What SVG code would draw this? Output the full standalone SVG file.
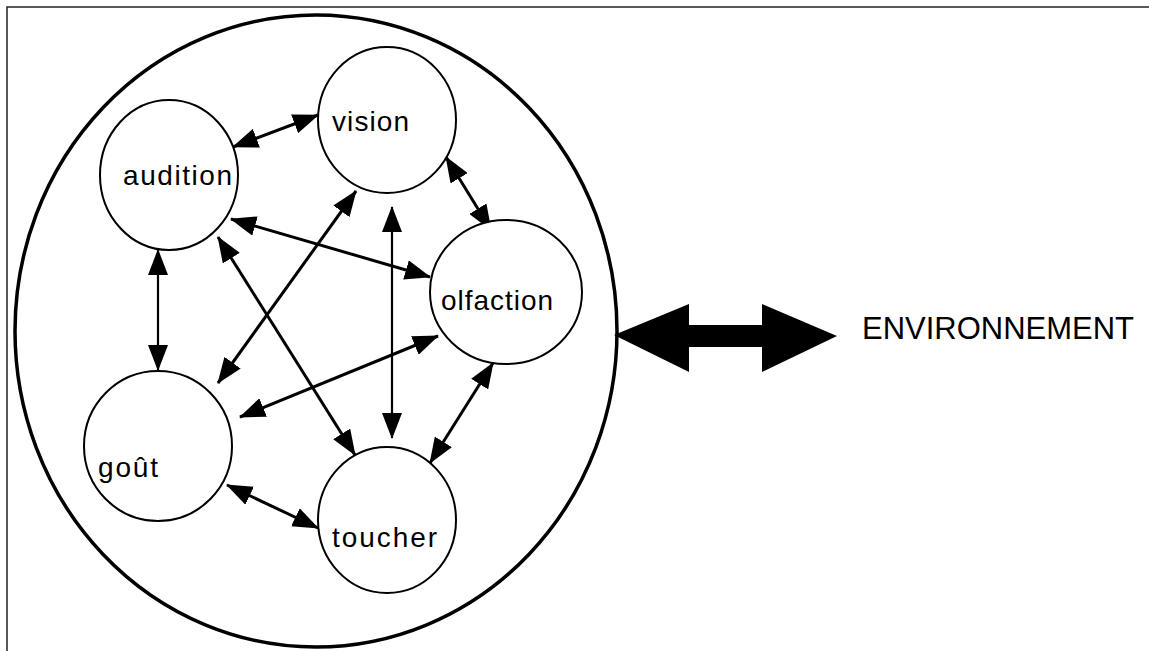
<svg xmlns="http://www.w3.org/2000/svg" width="1149" height="651" viewBox="0 0 1149 651">
  <style>
    .frame { stroke: #222; stroke-width: 1.5; fill: none; }
    .outer { fill: none; stroke: #000; stroke-width: 3.5; }
    .sense { fill: #fff; stroke: #000; stroke-width: 2; }
    .label { font-family: "Liberation Sans", Arial, sans-serif; font-size: 28px; fill: #000; }
    .env { font-family: "Liberation Sans", Arial, sans-serif; font-size: 31px; fill: #000; }
    .link { stroke: #000; stroke-width: 3; fill: none; marker-start: url(#head); marker-end: url(#head); }
    .link.thin { stroke-width: 2.2; }
  </style>
  <defs>
    <marker id="head" markerUnits="userSpaceOnUse" viewBox="0 0 26 20" markerWidth="26" markerHeight="20" refX="25" refY="10" orient="auto-start-reverse">
      <path d="M0,0 L26,10 L0,20 Z" fill="#000"/>
    </marker>
  </defs>

  <rect width="1149" height="651" fill="#fff"/>

  <!-- page frame (top and left edges) -->
  <path class="frame" d="M7,651 L7,7 L1149,7"/>

  <!-- enclosing circle of the senses -->
  <ellipse class="outer" cx="316" cy="331" rx="301" ry="316"/>

  <!-- two-way exchange with the environment -->
  <g id="exchange">
    <polygon points="614,335 689,304 689,325 762,325 762,304 837,336 762,372 762,347 689,347 689,372" fill="#000"/>
  </g>
  <g id="environnement">
    <text class="env" x="862" y="339" textLength="272" lengthAdjust="spacingAndGlyphs">ENVIRONNEMENT</text>
  </g>

  <!-- connectors between the senses -->
  <g id="connectors">
    <line class="link" x1="233" y1="147" x2="318" y2="115"/>
    <line class="link" x1="446" y1="157" x2="491" y2="230"/>
    <line class="link thin" x1="158" y1="250" x2="158" y2="370"/>
    <line class="link" x1="231" y1="219" x2="430" y2="277"/>
    <line class="link" x1="218" y1="383" x2="356" y2="191"/>
    <line class="link" x1="218" y1="237" x2="355" y2="455"/>
    <line class="link" x1="240" y1="417" x2="438" y2="336"/>
    <line class="link thin" x1="392" y1="207" x2="392" y2="438"/>
    <line class="link" x1="493" y1="363" x2="430" y2="463"/>
    <line class="link" x1="227" y1="485" x2="318" y2="528"/>
  </g>

  <!-- sense nodes -->
  <g id="audition">
    <ellipse class="sense" cx="169" cy="175" rx="69" ry="75"/>
    <text class="label" x="123" y="185" textLength="109" lengthAdjust="spacing">audition</text>
  </g>
  <g id="vision">
    <ellipse class="sense" cx="387" cy="120" rx="69" ry="73"/>
    <text class="label" x="332" y="131" textLength="77" lengthAdjust="spacing">vision</text>
  </g>
  <g id="olfaction">
    <ellipse class="sense" cx="506" cy="292" rx="76" ry="72"/>
    <text class="label" x="441" y="310" textLength="112" lengthAdjust="spacing">olfaction</text>
  </g>
  <g id="gout">
    <ellipse class="sense" cx="158" cy="446" rx="74" ry="75"/>
    <text class="label" x="98" y="477" textLength="60" lengthAdjust="spacing">goût</text>
  </g>
  <g id="toucher">
    <ellipse class="sense" cx="387" cy="520" rx="69" ry="73"/>
    <text class="label" x="332" y="547" textLength="105" lengthAdjust="spacing">toucher</text>
  </g>
</svg>
